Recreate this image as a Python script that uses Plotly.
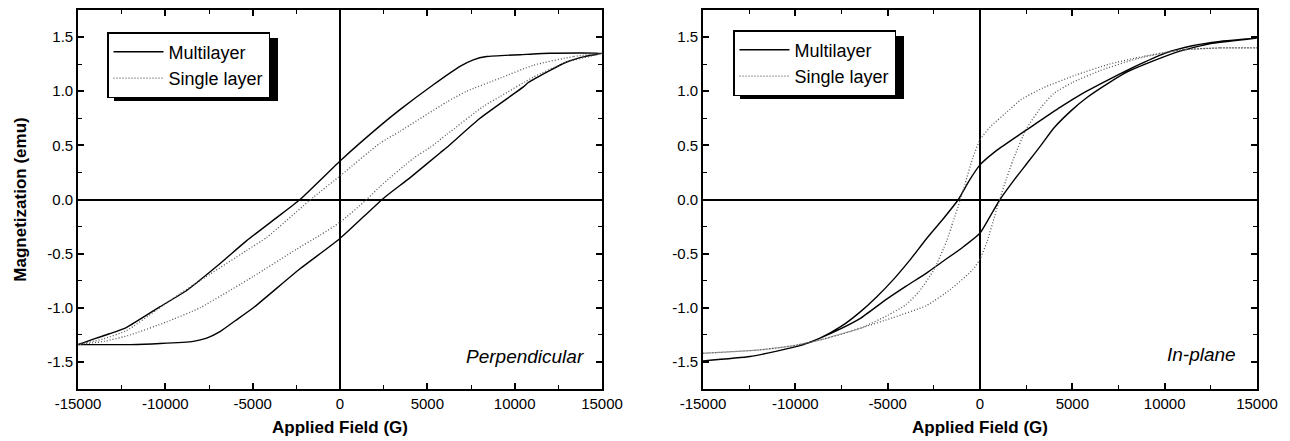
import plotly.graph_objects as go

# ---------------- data ----------------
# Perpendicular, multilayer
perp_ml_desc_H = [15000, 12000, 10687, 8397, 7634, 6870, 5343, 3435, 2290, 97, -2290, -3607, -5341, -7000, -8777, -10305, -12212, -13200, -14124, -15000]
perp_ml_desc_M = [1.35, 1.35, 1.34, 1.32, 1.29, 1.23, 1.06, 0.83, 0.68, 0.37, 0.0, -0.165, -0.38, -0.61, -0.84, -0.99, -1.18, -1.24, -1.29, -1.34]
perp_ml_asc_H = [-15000, -12000, -10305, -8397, -7634, -6870, -6000, -4962, -2290, 0, 2481, 4000, 5725, 6107, 8015, 10496, 10782, 12000, 12977, 14000, 15000]
perp_ml_asc_M = [-1.34, -1.34, -1.33, -1.31, -1.28, -1.22, -1.12, -1.00, -0.64, -0.36, 0.01, 0.20, 0.43, 0.48, 0.75, 1.04, 1.08, 1.19, 1.27, 1.32, 1.35]

# Perpendicular, single layer
perp_sl_desc_H = [15000, 13359, 11069, 9160, 7252, 6107, 3435, 2290, 97, -1527, -4199, -5342, -8015, -9160, -10500, -12212, -13600, -15000]
perp_sl_desc_M = [1.35, 1.32, 1.24, 1.12, 1.00, 0.90, 0.63, 0.52, 0.23, 0.02, -0.35, -0.47, -0.75, -0.87, -1.02, -1.21, -1.29, -1.34]
perp_sl_asc_H = [-15000, -13500, -12000, -9924, -8015, -4962, -2500, -1145, 0, 1527, 2290, 4198, 5152, 6107, 8206, 9160, 11069, 13000, 15000]
perp_sl_asc_M = [-1.34, -1.31, -1.25, -1.13, -1.00, -0.71, -0.46, -0.33, -0.21, 0.0, 0.12, 0.38, 0.48, 0.60, 0.86, 0.95, 1.13, 1.27, 1.35]

# In-plane, multilayer
inpl_ml_desc_H = [15000, 13000, 11500, 10000, 8664, 7000, 5776, 4332, 2500, 1803, 800, 0, -600, -1173, -2000, -2888, -3800, -4694, -5600, -6500, -7500, -8664, -9747, -11000, -12455, -15000]
inpl_ml_desc_M = [1.49, 1.46, 1.42, 1.35, 1.25, 1.11, 1.00, 0.85, 0.64, 0.56, 0.44, 0.32, 0.17, 0.0, -0.18, -0.36, -0.56, -0.74, -0.90, -1.04, -1.17, -1.28, -1.35, -1.40, -1.45, -1.49]
inpl_ml_asc_H = [-15000, -12455, -11000, -9747, -8664, -7500, -6500, -5054, -4000, -2900, -2000, -1000, 0, 500, 1083, 1800, 2527, 3300, 4000, 5000, 5776, 7000, 8000, 9386, 10830, 12500, 15000]
inpl_ml_asc_M = [-1.49, -1.45, -1.40, -1.35, -1.28, -1.19, -1.10, -0.92, -0.80, -0.68, -0.57, -0.45, -0.31, -0.17, 0.0, 0.17, 0.33, 0.50, 0.66, 0.83, 0.94, 1.08, 1.18, 1.28, 1.37, 1.44, 1.49]

# In-plane, single layer
inpl_sl_desc_H = [15000, 13000, 10800, 8800, 7000, 5200, 3400, 2200, 1600, 550, 0, -400, -800, -1100, -1450, -1800, -2500, -3300, -4000, -5000, -6500, -8500, -10100, -12000, -15000]
inpl_sl_desc_M = [1.40, 1.40, 1.38, 1.32, 1.25, 1.15, 1.03, 0.92, 0.83, 0.67, 0.55, 0.38, 0.15, -0.02, -0.20, -0.38, -0.65, -0.85, -0.97, -1.07, -1.19, -1.29, -1.35, -1.39, -1.42]
inpl_sl_asc_H = [-15000, -12000, -10100, -8500, -6500, -4700, -2900, -1600, -400, 0, 400, 800, 1100, 1450, 1800, 2500, 3300, 4000, 5000, 6500, 8500, 10800, 13000, 15000]
inpl_sl_asc_M = [-1.42, -1.39, -1.35, -1.29, -1.19, -1.09, -0.98, -0.83, -0.65, -0.55, -0.38, -0.15, 0.02, 0.20, 0.37, 0.65, 0.85, 0.98, 1.08, 1.19, 1.30, 1.38, 1.40, 1.40]

series_names = ["Multilayer", "Single layer"]
panel_labels = ["Perpendicular", "In-plane"]

x_tick_vals = [-15000, -10000, -5000, 0, 5000, 10000, 15000]
x_tick_text = ["-15000", "-10000", "-5000", "0", "5000", "10000", "15000"]
x_minor_vals = [-12500, -7500, -2500, 2500, 7500, 12500]
y_tick_vals = [-1.5, -1.0, -0.5, 0.0, 0.5, 1.0, 1.5]
y_tick_text = ["-1.5", "-1.0", "-0.5", "0.0", "0.5", "1.0", "1.5"]
y_minor_vals = [-1.25, -0.75, -0.25, 0.25, 0.75, 1.25]

x_title = "Applied Field (G)"
y_title = "Magnetization (emu)"

# ---------------- figure ----------------
W, H = 1290, 441
ML, MR, MT, MB = 78, 33, 10, 52
PW, PH = W - ML - MR, H - MT - MB
FONT = "Liberation Sans, Arial, sans-serif"


def px_x(px):
    return (px - ML) / PW


def px_y(py):
    return (H - MB - py) / PH


fig = go.Figure()

panels = [
    ("x", "y", "legend", (perp_ml_desc_H + perp_ml_asc_H, perp_ml_desc_M + perp_ml_asc_M),
     (perp_sl_desc_H + perp_sl_asc_H, perp_sl_desc_M + perp_sl_asc_M)),
    ("x2", "y2", "legend2", (inpl_ml_desc_H + inpl_ml_asc_H, inpl_ml_desc_M + inpl_ml_asc_M),
     (inpl_sl_desc_H + inpl_sl_asc_H, inpl_sl_desc_M + inpl_sl_asc_M)),
]
for xa, ya, lg, ml, sl in panels:
    fig.add_trace(go.Scatter(x=ml[0], y=ml[1], mode="lines", name=series_names[0],
                             line=dict(color="black", width=1.4, shape="spline", smoothing=0.5),
                             xaxis=xa, yaxis=ya, legend=lg))
    fig.add_trace(go.Scatter(x=sl[0], y=sl[1], mode="lines", name=series_names[1],
                             line=dict(color="#555555", width=1.3, dash="1px,2px", shape="spline", smoothing=0.5),
                             xaxis=xa, yaxis=ya, legend=lg))

axis_common = dict(showgrid=False, showline=True, linecolor="black", linewidth=1.6,
                   mirror="allticks", ticks="inside", ticklen=6, tickwidth=1.5, tickcolor="black",
                   zeroline=True, zerolinecolor="black", zerolinewidth=1.6, automargin=False,
                   tickfont=dict(family=FONT, size=15, color="black"))

xax = dict(axis_common, range=[-15000, 15000], tickmode="array", tickvals=x_tick_vals, ticktext=x_tick_text,
           minor=dict(ticks="inside", ticklen=4, tickwidth=1.2, tickcolor="black", tickvals=x_minor_vals),
           title=dict(text="<b>" + x_title + "</b>", font=dict(family=FONT, size=17, color="black"), standoff=10))
yax = dict(axis_common, range=[-1.75, 1.75], tickmode="array", tickvals=y_tick_vals, ticktext=y_tick_text,
           minor=dict(ticks="inside", ticklen=4, tickwidth=1.2, tickcolor="black", tickvals=y_minor_vals))

left_dom = [0, px_x(602)]
right_dom = [px_x(703), 1]

legend_common = dict(bgcolor="white", bordercolor="black", borderwidth=1.5,
                     font=dict(family=FONT, size=18, color="black"), itemwidth=50,
                     xanchor="left", yanchor="top", tracegroupgap=0)

fig.update_layout(
    width=W, height=H, autosize=False,
    margin=dict(l=ML, r=MR, t=MT, b=MB),
    paper_bgcolor="white", plot_bgcolor="white",
    xaxis=dict(xax, domain=left_dom, anchor="y"),
    yaxis=dict(yax, domain=[0, 1], anchor="x",
               title=dict(text="<b>" + y_title + "</b>", font=dict(family=FONT, size=17, color="black"), standoff=16)),
    xaxis2=dict(xax, domain=right_dom, anchor="y2"),
    yaxis2=dict(yax, domain=[0, 1], anchor="x2"),
    legend=dict(legend_common, x=px_x(107), y=px_y(32)),
    legend2=dict(legend_common, x=px_x(733), y=px_y(30)),
    showlegend=True,
)

# legend drop shadows (offset copies of the legend boxes)
LEG_W, LEG_H = 164, 63
for (lx, ly) in [(107, 32), (733, 30)]:
    fig.add_shape(type="rect", xref="paper", yref="paper",
                  x0=px_x(lx + 7), x1=px_x(lx + 7 + LEG_W), y0=px_y(ly + 6 + LEG_H), y1=px_y(ly + 6),
                  fillcolor="black", line=dict(width=0), layer="above")

fig.add_annotation(xref="x domain", yref="y domain", x=1, y=0, xanchor="right", yanchor="bottom",
                   xshift=-16, yshift=20, text="<i>" + panel_labels[0] + "</i>", showarrow=False,
                   font=dict(family=FONT, size=19, color="black"))
fig.add_annotation(xref="x2 domain", yref="y2 domain", x=1, y=0, xanchor="right", yanchor="bottom",
                   xshift=-19, yshift=22, text="<i>" + panel_labels[1] + "</i>", showarrow=False,
                   font=dict(family=FONT, size=19, color="black"))

fig.write_html("out.html", config={"displayModeBar": False},
               post_script="document.body.style.margin='0px';")
